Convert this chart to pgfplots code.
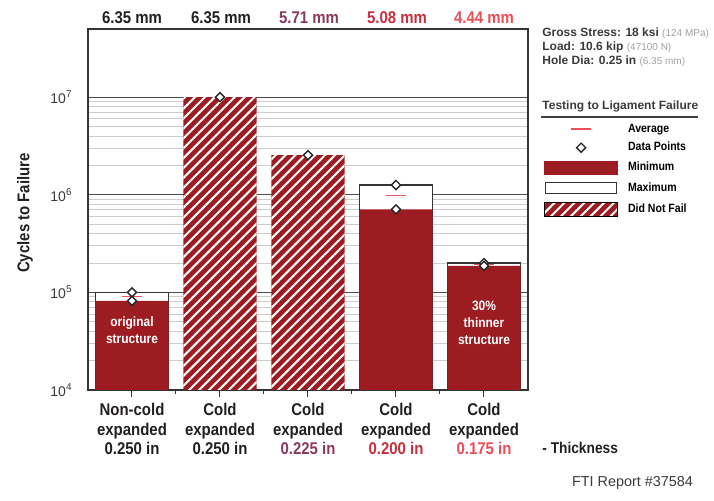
\documentclass[border=0pt]{standalone}
\usepackage{pgfplots}
\pgfplotsset{compat=1.18}
\usetikzlibrary{patterns.meta}
\usepackage{fontspec}
\setmainfont{Liberation Sans}
\newfontfamily\cond{Liberation Sans}[FakeStretch=0.88]
\definecolor{barred}{HTML}{9C1C22}
\definecolor{cA}{HTML}{231F20}
\definecolor{cB}{HTML}{8A3A5E}
\definecolor{cC}{HTML}{C4303F}
\definecolor{cD}{HTML}{E84E5A}
\definecolor{avgred}{HTML}{E8505B}
\definecolor{txtgray}{HTML}{3A3A3A}
\definecolor{ltgray}{HTML}{A0A0A0}
\tikzset{hatchbar/.style={fill=barred, postaction={pattern={Lines[angle=45,distance=3.5pt,line width=1pt]}, pattern color=white}}}
\begin{document}
\begin{tikzpicture}[x=0.5pt,y=0.5pt]
\path[use as bounding box] (0,0) rectangle (714,500);
\begin{axis}[
  at={(44pt,55pt)}, anchor=south west,
  scale only axis, width=220pt, height=180.5pt,
  ymode=log, ymin=1e4, ymax=5e7, log origin=infty,
  xmin=-0.5, xmax=4.5,
  xtick={0,1,2,3,4},
  minor xtick={0.5,1.5,2.5,3.5},
  xticklabels={{Non-cold\\expanded\\0.250 in},
               {Cold\\expanded\\0.250 in},
               {Cold\\expanded\\\textcolor{cB}{0.225 in}},
               {Cold\\expanded\\\textcolor{cC}{0.200 in}},
               {Cold\\expanded\\\textcolor{cD}{0.175 in}}},
  xticklabel style={align=center, text=cA, font=\fontsize{8.5}{9.7}\selectfont\cond\bfseries, inner sep=1pt, yshift=-2pt},
  xtick pos=bottom, ytick pos=left,
  tick align=outside,
  major tick length=3.5pt, minor tick length=1.8pt,
  x tick style={draw=black!80, line width=0.5pt},
  y tick style={draw=none},
  ytick={1e4,1e5,1e6,1e7},
  yticklabels={10\textsuperscript{4},10\textsuperscript{5},10\textsuperscript{6},10\textsuperscript{7}},
  yticklabel style={font=\fontsize{7}{8}\selectfont, text=txtgray, inner sep=1pt, xshift=-3pt},
  minor ytick={2e4,3e4,4e4,5e4,6e4,7e4,8e4,9e4,2e5,3e5,4e5,5e5,6e5,7e5,8e5,9e5,2e6,3e6,4e6,5e6,6e6,7e6,8e6,9e6},
  ymajorgrids, yminorgrids,
  major grid style={draw=black!70, line width=0.6pt},
  minor grid style={draw=black!20, line width=0.5pt},
  axis line style={draw=black!80, line width=0.6pt},
  legend cell align=left,
  legend style={draw=none, fill=none, at={(axis description cs:1.036,0.740)}, anchor=north west,
    font=\fontsize{6}{7}\selectfont\cond\bfseries, row sep=3.8pt, column sep=5pt, inner sep=0pt,
    nodes={inner sep=0pt, text height=4.4pt, text depth=1.2pt}},
]
% maximum boxes
\addplot[ybar, bar width=0.83, bar shift=0pt, fill=white, draw=black!80, line width=0.6pt, forget plot]
  coordinates {(0,1.0e5) (3,1.26e6) (4,2.0e5)};
% minimum bars
\addplot[ybar, bar width=0.83, bar shift=0pt, fill=barred, draw=none, forget plot]
  coordinates {(0,8.2e4) (3,7.1e5) (4,1.87e5)};
% did not fail (hatched)
\addplot[ybar, bar width=0.83, bar shift=0pt, draw=none, hatchbar, forget plot]
  coordinates {(1,1.0e7) (2,2.55e6)};
% averages (short horizontal segments)
\addplot[draw=avgred, line width=0.8pt, mark=none, forget plot] coordinates {(-0.115,9.1e4) (0.115,9.1e4)};
\addplot[draw=avgred, line width=0.8pt, mark=none, forget plot] coordinates {(2.885,9.8e5) (3.115,9.8e5)};
\addplot[draw=avgred, line width=0.8pt, mark=none, forget plot] coordinates {(3.885,1.93e5) (4.115,1.93e5)};
% data points
\addplot[only marks, mark=square*, mark size=1.6pt, mark options={rotate=45, draw=black!85, fill=white, line width=0.7pt}, forget plot]
  coordinates {(0,1.0e5) (0,8.2e4) (1,1.0e7) (2,2.55e6) (3,1.26e6) (3,7.1e5) (4,2.0e5) (4,1.87e5)};
% text inside bars
\node[text=white, align=center, font=\fontsize{6.8}{8.5}\selectfont\cond\bfseries] at (axis cs:0,4.06e4) {original\\structure};
\node[text=white, align=center, font=\fontsize{6.8}{8.5}\selectfont\cond\bfseries] at (axis cs:4,4.85e4) {30\%\\thinner\\structure};
% legend
\addlegendimage{legend image code/.code={\draw[avgred, line width=0.7pt] (13.25pt,0pt) -- (23.25pt,0pt);}}
\addlegendentry{Average}
\addlegendimage{legend image code/.code={\draw plot[only marks, mark=square*, mark size=1.6pt, mark options={rotate=45, draw=black!85, fill=white, line width=0.7pt}] coordinates {(18.25pt,0pt)};}}
\addlegendentry{Data Points}
\addlegendimage{legend image code/.code={\fill[barred] (0pt,-3.25pt) rectangle (36.5pt,3.25pt);}}
\addlegendentry{Minimum}
\addlegendimage{legend image code/.code={\draw[fill=white, draw=black!80, line width=0.6pt] (0.5pt,-2.75pt) rectangle (36pt,2.75pt);}}
\addlegendentry{Maximum}
\addlegendimage{legend image code/.code={\path[hatchbar] (0pt,-3.5pt) rectangle (36.5pt,3.5pt);}}
\addlegendentry{Did Not Fail}
\end{axis}
% top labels
\begin{scope}[every node/.style={font=\fontsize{8.5}{9.5}\selectfont\cond\bfseries}]
\node[text=cA] at (132,482.5) {6.35 mm};
\node[text=cA] at (221,482.5) {6.35 mm};
\node[text=cB] at (309,482.5) {5.71 mm};
\node[text=cC] at (397,482.5) {5.08 mm};
\node[text=cD] at (484,482.5) {4.44 mm};
\node[text=cA, rotate=90] at (25,287) {Cycles to Failure};
\end{scope}
\node[text=cA, anchor=west, inner sep=0pt, font=\fontsize{7.8}{9}\selectfont\cond\bfseries] at (542,52) {- Thickness};
% info text
\begin{scope}[every node/.style={anchor=west, inner sep=0pt, text=txtgray, font=\fontsize{6}{7}\selectfont\bfseries}]
\node at (542,467) {Gross Stress: 18 ksi {\mdseries\fontsize{5}{6}\selectfont\color{ltgray}(124 MPa)}};
\node at (542,453) {Load: 10.6 kip {\mdseries\fontsize{5}{6}\selectfont\color{ltgray}(47100 N)}};
\node at (542,439) {Hole Dia: 0.25 in {\mdseries\fontsize{5}{6}\selectfont\color{ltgray}(6.35 mm)}};
\node at (542,394) {Testing to Ligament Failure};
\end{scope}
\draw[black!75, line width=0.8pt] (541,383) -- (698,383);
\node[anchor=east, text=txtgray, font=\fontsize{7.2}{8}\selectfont] at (700,17) {FTI Report \#37584};
\end{tikzpicture}
\end{document}
